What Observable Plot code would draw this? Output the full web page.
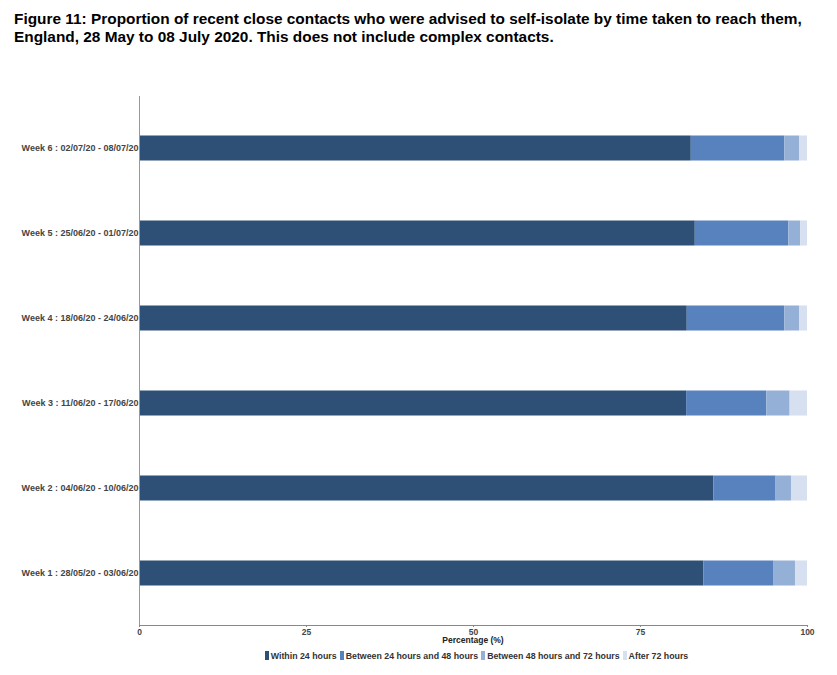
<!DOCTYPE html>
<html>
<head>
<meta charset="utf-8">
<script src="https://cdn.jsdelivr.net/npm/d3@7"></script>
<script src="https://cdn.jsdelivr.net/npm/@observablehq/plot@0.6"></script>
<style>
  body { margin: 0; background: #fff; font-family: "Liberation Sans", Arial, sans-serif; }
  #wrap { position: relative; width: 837px; height: 675px; }
  #title { position: absolute; left: 14px; top: 10px; font-weight: bold; font-size: 15.4px; line-height: 18px; color: #000; }
  #chart { position: absolute; left: 0; top: 60px; }
  #edge { position: absolute; left: 815px; top: 96px; width: 1px; height: 529px; background: #eeeeee; }
  #xlabel { position: absolute; top: 635px; left: 139px; width: 668px; text-align: center; font-size: 8.5px; font-weight: bold; color: #222; }
  #legend { position: absolute; top: 651px; left: 0; width: 956px; text-align: center; font-size: 8.8px; font-weight: bold; color: #333; }
  #legend span.item { margin-right: 3px; white-space: nowrap; }
  #legend span.sw { display: inline-block; width: 4px; height: 9px; margin-right: 2px; vertical-align: -1px; }
</style>
</head>
<body>
<div id="wrap">
  <div id="title">Figure 11: Proportion of recent close contacts who were advised to self-isolate by time taken to reach them,<br>England, 28 May to 08 July 2020. This does not include complex contacts.</div>
  <div id="edge"></div>
  <div id="chart"></div>
  <div id="xlabel">Percentage (%)</div>
  <div id="legend"></div>
</div>
<script>
const weeks = [
  "Week 1 : 28/05/20 - 03/06/20",
  "Week 2 : 04/06/20 - 10/06/20",
  "Week 3 : 11/06/20 - 17/06/20",
  "Week 4 : 18/06/20 - 24/06/20",
  "Week 5 : 25/06/20 - 01/07/20",
  "Week 6 : 02/07/20 - 08/07/20"
];
const seriesNames = ["Within 24 hours", "Between 24 hours and 48 hours", "Between 48 hours and 72 hours", "After 72 hours"];
const within24 = [84.5, 86.0, 81.9, 82.0, 83.2, 82.6];
const between24and48 = [10.5, 9.3, 12.0, 14.6, 14.0, 14.0];
const between48and72 = [3.2, 2.3, 3.5, 2.2, 1.8, 2.2];
const after72 = [1.8, 2.4, 2.6, 1.2, 1.0, 1.2];
const colors = ["#2e5077", "#5882be", "#95b0d6", "#d6e0f0"];
const xTicks = [0, 25, 50, 75, 100];

const seriesValues = [within24, between24and48, between48and72, after72];
const data = [];
weeks.forEach((w, i) => {
  seriesNames.forEach((s, j) => data.push({week: w, series: s, value: seriesValues[j][i]}));
});

const chart = Plot.plot({
  width: 837,
  height: 590,
  marginLeft: 139,
  marginRight: 30,
  marginTop: 36,
  marginBottom: 25,
  style: {fontFamily: "'Liberation Sans', Arial, sans-serif", background: "#fff"},
  x: {domain: [0, 100], ticks: xTicks, label: null},
  y: {domain: weeks.slice().reverse(), padding: 0.22, label: null},
  color: {domain: seriesNames, range: colors},
  marks: [
    Plot.barX(data, Plot.stackX({x: "value", y: "week", fill: "series", order: seriesNames, insetTop: 20.5, insetBottom: 20.5})),
    Plot.frame({anchor: "left", stroke: "#999"}),
    Plot.frame({anchor: "bottom", stroke: "#888"}),
    Plot.axisY({tickSize: 0, tickPadding: 1, fontSize: 9, fontWeight: "bold", fill: "#444", label: null}),
    Plot.axisX({ticks: xTicks, tickSize: 2, tickPadding: 1, fontSize: 8.5, fontWeight: "bold", fill: "#444", stroke: "#888", label: null})
  ]
});
document.getElementById("chart").appendChild(chart);

const legend = document.getElementById("legend");
seriesNames.forEach((s, j) => {
  const item = document.createElement("span");
  item.className = "item";
  const sw = document.createElement("span");
  sw.className = "sw";
  sw.style.background = colors[j];
  item.appendChild(sw);
  item.appendChild(document.createTextNode(s));
  legend.appendChild(item);
});
</script>
</body>
</html>
